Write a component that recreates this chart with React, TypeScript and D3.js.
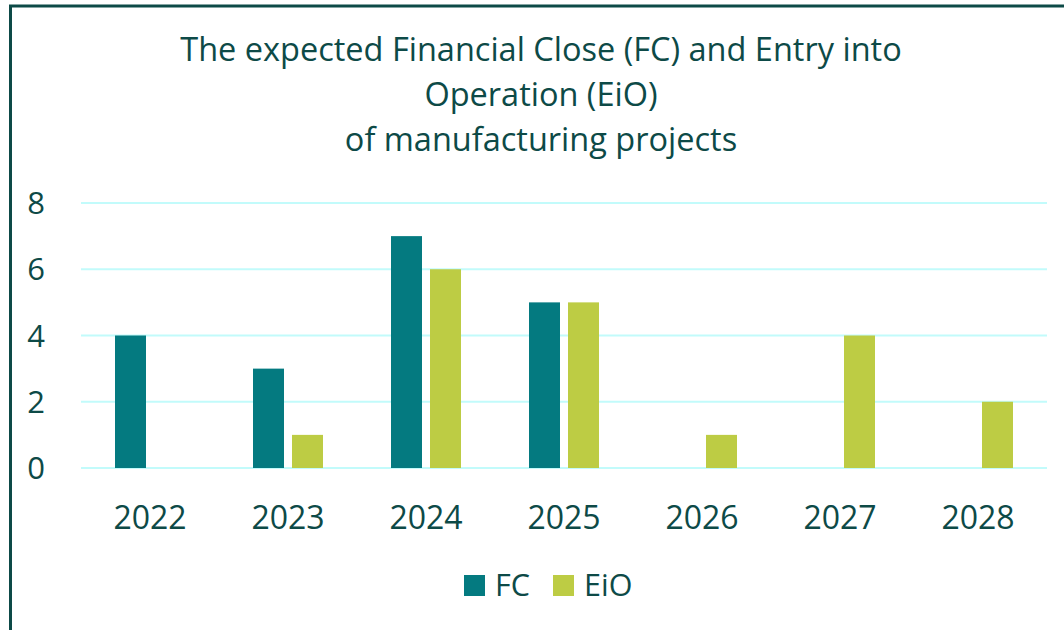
import { useEffect, useRef } from "react";
import * as d3 from "d3";

const years = ["2022", "2023", "2024", "2025", "2026", "2027", "2028"];
const fcValues = [4, 3, 7, 5, 0, 0, 0];
const eioValues = [0, 1, 6, 5, 1, 4, 2];
const yTicks = [0, 2, 4, 6, 8];
const titleLines = [
  "The expected Financial Close (FC) and Entry into",
  "Operation (EiO)",
  "of manufacturing projects",
];

const WIDTH = 1064;
const HEIGHT = 630;
const TEXT = "#0d4a47";
const FC_COLOR = "#047a80";
const EIO_COLOR = "#bdcc44";
const FONT = "'Open Sans', sans-serif";

export default function App() {
  const ref = useRef<SVGSVGElement>(null);

  useEffect(() => {
    const svg = d3.select(ref.current);
    svg.selectAll("*").remove();

    const margin = { top: 203, left: 81, right: 17, bottom: 162 };
    const innerW = WIDTH - margin.left - margin.right;
    const innerH = HEIGHT - margin.top - margin.bottom;

    // chart frame (only top and left visible)
    svg.append("rect")
      .attr("x", 10.5).attr("y", 6)
      .attr("width", WIDTH + 20).attr("height", HEIGHT + 20)
      .attr("fill", "white")
      .attr("stroke", TEXT).attr("stroke-width", 3);

    svg.append("text")
      .attr("x", 541)
      .attr("fill", TEXT)
      .style("font-family", FONT)
      .style("font-size", "32.5px")
      .attr("text-anchor", "middle")
      .selectAll("tspan")
      .data(titleLines)
      .enter().append("tspan")
      .attr("x", 541)
      .attr("y", (_, i) => 61 + i * 45)
      .text(d => d);

    const x = d3.scaleBand().domain(years).range([0, innerW]);
    const y = d3.scaleLinear().domain([0, 8]).range([innerH, 0]);

    const g = svg.append("g").attr("transform", `translate(${margin.left},${margin.top})`);

    g.selectAll(".grid")
      .data(yTicks)
      .enter().append("line")
      .attr("x1", 0).attr("x2", innerW)
      .attr("y1", d => y(d)).attr("y2", d => y(d))
      .attr("stroke", "#c2fbfb").attr("stroke-width", 2);

    g.selectAll(".ytick")
      .data(yTicks)
      .enter().append("text")
      .attr("x", -45)
      .attr("y", d => y(d))
      .attr("dy", "0.36em")
      .attr("text-anchor", "middle")
      .attr("fill", TEXT)
      .style("font-family", FONT)
      .style("font-size", "31px")
      .text(d => d);

    const barW = 31;
    const gap = 8;
    const series = [
      { name: "FC", values: fcValues, color: FC_COLOR, offset: -(barW + gap / 2) },
      { name: "EiO", values: eioValues, color: EIO_COLOR, offset: gap / 2 },
    ];

    series.forEach(s => {
      g.selectAll(`.bar-${s.name}`)
        .data(s.values.map((v, i) => ({ v, year: years[i] })).filter(d => d.v > 0))
        .enter().append("rect")
        .attr("x", d => (x(d.year) as number) + x.bandwidth() / 2 + s.offset)
        .attr("y", d => y(d.v))
        .attr("width", barW)
        .attr("height", d => innerH - y(d.v))
        .attr("fill", s.color);
    });

    g.selectAll(".xtick")
      .data(years)
      .enter().append("text")
      .attr("x", d => (x(d) as number) + x.bandwidth() / 2)
      .attr("y", innerH + 61)
      .attr("text-anchor", "middle")
      .attr("fill", TEXT)
      .style("font-family", FONT)
      .style("font-size", "32px")
      .text(d => d);

    // legend
    const legend = svg.append("g").attr("transform", "translate(464,575)");
    const items = [
      { name: "FC", color: FC_COLOR, dx: 0 },
      { name: "EiO", color: EIO_COLOR, dx: 89 },
    ];
    items.forEach(it => {
      const row = legend.append("g").attr("transform", `translate(${it.dx},0)`);
      row.append("rect").attr("width", 21).attr("height", 21).attr("fill", it.color);
      row.append("text")
        .attr("x", 31).attr("y", 21)
        .attr("fill", TEXT)
        .style("font-family", FONT)
        .style("font-size", "30.5px")
        .text(it.name);
    });
  }, []);

  return (
    <div style={{ position: "fixed", left: 0, top: 0 }}>
      <svg ref={ref} width={WIDTH} height={HEIGHT} style={{ display: "block" }} />
    </div>
  );
}
